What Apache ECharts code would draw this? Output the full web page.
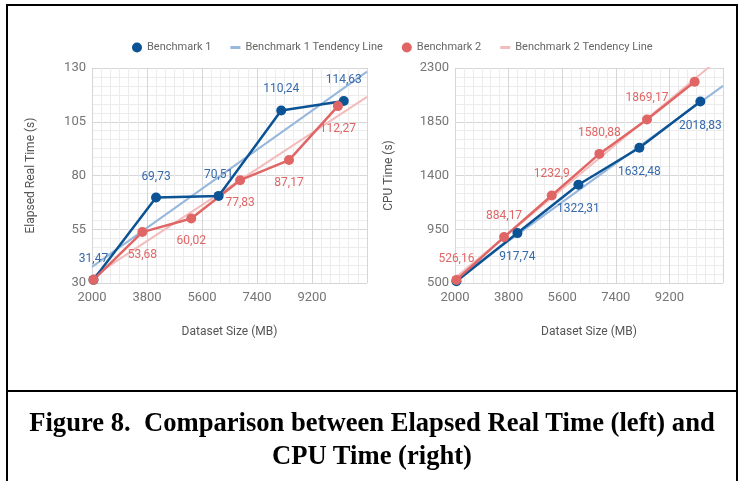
<!DOCTYPE html>
<html>
<head>
<meta charset="utf-8">
<script src="https://cdn.jsdelivr.net/npm/echarts@6/dist/echarts.min.js"></script>
<style>
  html, body { margin: 0; padding: 0; background: #fff; }
  .page { position: relative; width: 743px; height: 481px; overflow: hidden; }
  .frame {
    position: absolute; left: 6px; top: 4px; width: 728px; height: 500px;
    border: 2px solid #000;
  }
  .divider { position: absolute; left: 6px; top: 390px; width: 732px; height: 2px; background: #000; }
  #chart { position: absolute; left: 0; top: 0; width: 743px; height: 388px; }
  .caption {
    position: absolute; left: 6px; top: 406px; width: 732px;
    text-align: center; white-space: pre;
    font-family: 'Liberation Serif', 'Times New Roman', serif;
    font-weight: bold; font-size: 26.6px; line-height: 33px; color: #000;
  }
</style>
</head>
<body>
<div class="page">
  <div id="chart"></div>
  <div class="frame"></div>
  <div class="divider"></div>
  <div class="caption">Figure 8.  Comparison between Elapsed Real Time (left) and
CPU Time (right)</div>
</div>
<script>
// dataset sizes (MB)
const sizes1 = [2048, 4096, 6144, 8192, 10240]
const sizes2 = [2048, 3648, 5248, 6848, 8448, 10048]

// elapsed real time (s), left chart
const realB1 = [31.47, 69.73, 70.51, 110.24, 114.63]
const realB2 = [31.5, 53.68, 60.02, 77.83, 87.17, 112.27]

// cpu time (s), right chart
const cpuB1 = [515, 917.74, 1322.31, 1632.48, 2018.83]
const cpuB2 = [526.16, 884.17, 1232.9, 1580.88, 1869.17, 2185]

// tendency lines, end points
const trendX = [2000, 11000]
const realTrend1 = [37.5, 128.3]
const realTrend2 = [32.7, 116.6]
const cpuTrend1 = [528, 2150]
const cpuTrend2 = [541, 2405]

// points whose label is not shown
const realB2Hidden = [0]
const cpuB1Hidden = [0]
const cpuB2Hidden = [5]

const BLUE = '#0b5394'
const BLUE_LABEL = '#3569ac'
const RED = '#e06666'
const BLUE_TREND = '#97b7dc'
const RED_TREND = '#f3bcbc'
const AXIS_TEXT = '#757575'
const NAME_TEXT = '#555'

const fmt = (p) => String(p.value[1]).replace('.', ',')

function points(xs, ys, hidden = []) {
  return xs.map((x, i) => {
    const item = { value: [x, ys[i]] }
    if (hidden.includes(i)) item.label = { show: false }
    return item
  })
}

function xAxisFor(gridIndex) {
  return {
    gridIndex,
    type: 'value',
    min: 2000,
    max: 11000,
    interval: 1800,
    name: 'Dataset Size (MB)',
    nameLocation: 'middle',
    nameGap: 43,
    nameTextStyle: { color: NAME_TEXT, fontSize: 12 },
    axisLine: { show: false },
    axisTick: { show: false },
    axisLabel: { color: AXIS_TEXT, fontSize: 13, margin: 8, showMaxLabel: false, formatter: (v) => String(v) },
    splitLine: { lineStyle: { color: '#d6d6d6' } },
    minorTick: { show: false, splitNumber: 6 },
    minorSplitLine: { show: true, lineStyle: { color: '#ececec' } },
  }
}

function yAxisFor(gridIndex, name, min, max, interval, nameGap) {
  return {
    gridIndex,
    type: 'value',
    min,
    max,
    interval,
    name,
    nameLocation: 'middle',
    nameGap,
    nameTextStyle: { color: NAME_TEXT, fontSize: 12 },
    axisLine: { show: false },
    axisTick: { show: false },
    axisLabel: { color: AXIS_TEXT, fontSize: 13, margin: 6, formatter: (v) => String(v) },
    splitLine: { lineStyle: { color: '#d6d6d6' } },
    minorTick: { show: false, splitNumber: 6 },
    minorSplitLine: { show: true, lineStyle: { color: '#ececec' } },
  }
}

function bench(name, idx, xs, ys, color, labelColor, pos, dist, hidden) {
  return {
    name,
    type: 'line',
    xAxisIndex: idx,
    yAxisIndex: idx,
    data: points(xs, ys, hidden),
    symbol: 'circle',
    symbolSize: 10,
    itemStyle: { color },
    lineStyle: { color, width: 2.5 },
    z: 4,
    label: {
      show: true,
      position: pos,
      distance: dist,
      color: labelColor,
      fontSize: 12,
      formatter: fmt,
    },
  }
}

function trend(name, idx, ys, color) {
  return {
    name,
    type: 'line',
    xAxisIndex: idx,
    yAxisIndex: idx,
    data: trendX.map((x, i) => [x, ys[i]]),
    showSymbol: false,
    silent: true,
    itemStyle: { color },
    lineStyle: { color, width: 2 },
    z: 2,
  }
}

const chart = echarts.init(document.getElementById('chart'))
chart.setOption({
  animation: false,
  textStyle: { fontFamily: 'Roboto' },
  legend: {
    top: 37,
    left: 127,
    itemWidth: 10,
    itemHeight: 10,
    itemGap: 19,
    textStyle: { color: '#666', fontSize: 11 },
    data: [
      { name: 'Benchmark 1', icon: 'circle' },
      { name: 'Benchmark 1 Tendency Line', icon: 'path://M0,0H10V3H0Z' },
      { name: 'Benchmark 2', icon: 'circle' },
      { name: 'Benchmark 2 Tendency Line', icon: 'path://M0,0H10V3H0Z' },
    ],
  },
  grid: [
    { left: 92, top: 68, width: 275, height: 215 },
    { left: 455, top: 68, width: 268, height: 215 },
  ],
  xAxis: [xAxisFor(0), xAxisFor(1)],
  yAxis: [
    yAxisFor(0, 'Elapsed Real Time (s)', 30, 130, 25, 55),
    yAxisFor(1, 'CPU Time (s)', 500, 2300, 450, 60),
  ],
  series: [
    trend('Benchmark 1 Tendency Line', 0, realTrend1, BLUE_TREND),
    trend('Benchmark 2 Tendency Line', 0, realTrend2, RED_TREND),
    bench('Benchmark 1', 0, sizes1, realB1, BLUE, BLUE_LABEL, 'top', 10),
    bench('Benchmark 2', 0, sizes2, realB2, RED, RED, 'bottom', 12, realB2Hidden),

    trend('Benchmark 1 Tendency Line', 1, cpuTrend1, BLUE_TREND),
    trend('Benchmark 2 Tendency Line', 1, cpuTrend2, RED_TREND),
    bench('Benchmark 1', 1, sizes1, cpuB1, BLUE, BLUE_LABEL, 'bottom', 13, cpuB1Hidden),
    bench('Benchmark 2', 1, sizes2, cpuB2, RED, RED, 'top', 10, cpuB2Hidden),
  ],
})
</script>
</body>
</html>
